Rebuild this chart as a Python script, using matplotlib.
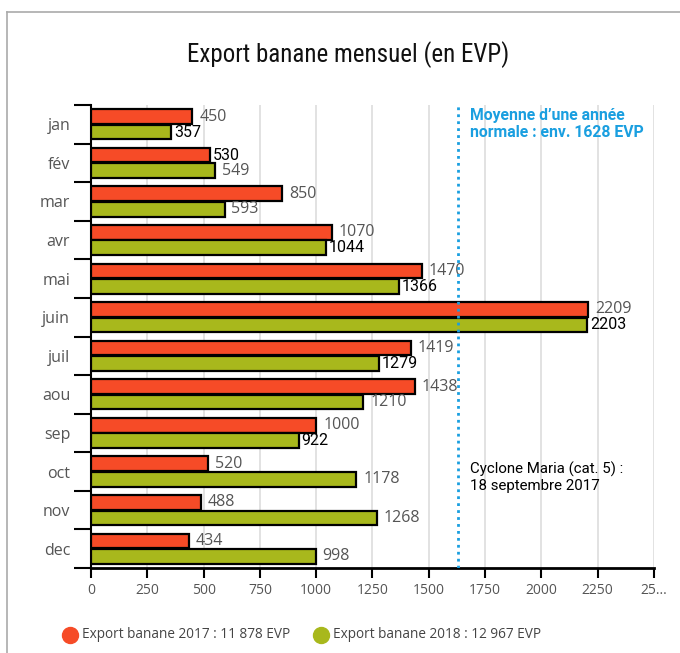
import matplotlib

matplotlib.use("Agg")
import matplotlib.pyplot as plt
from matplotlib.lines import Line2D
import numpy as np

months = ["jan", "fév", "mar", "avr", "mai", "juin", "juil", "aou", "sep", "oct", "nov", "dec"]
export_2017 = [450, 530, 850, 1070, 1470, 2209, 1419, 1438, 1000, 520, 488, 434]
export_2018 = [357, 549, 593, 1044, 1366, 2203, 1279, 1210, 922, 1178, 1268, 998]
x_ticks = [0, 250, 500, 750, 1000, 1250, 1500, 1750, 2000, 2250, 2500]
x_ticklabels = ["0", "250", "500", "750", "1000", "1250", "1500", "1750", "2000", "2250", "25..."]
average_normal = 1628
legend_labels = ["Export banane 2017 : 11 878 EVP", "Export banane 2018 : 12 967 EVP"]

# labels drawn in black in the original (the rest are grey)
dark_2017 = {"fév"}
dark_2018 = {"jan", "avr", "mai", "juin", "juil", "sep"}

RED = "#F64B27"
GREEN = "#A8B81C"
BLUE = "#1A9FE0"
GREY = "#555555"

fig = plt.figure(figsize=(6.8, 6.53), dpi=100)
ax = fig.add_axes([91 / 680, 1 - 568 / 653, (654 - 91) / 680, (568 - 105) / 653])

y = np.arange(len(months))
h = 0.38
ax.barh(y - 0.2, export_2017, height=h, color=RED, edgecolor="black", linewidth=1.6, zorder=3)
ax.barh(y + 0.2, export_2018, height=h, color=GREEN, edgecolor="black", linewidth=1.6, zorder=3)

for i, m in enumerate(months):
    for val, off, dark in ((export_2017[i], -0.2, m in dark_2017), (export_2018[i], 0.2, m in dark_2018)):
        ax.annotate(str(val), (val, y[i] + off), xytext=(2 if dark else 5, 0),
                    textcoords="offset points", va="center", ha="left", fontsize=11.5,
                    color="black" if dark else GREY,
                    family="Roboto" if dark else "Open Sans", zorder=4)

ax.set_xlim(0, 2500)
ax.set_ylim(len(months) - 0.5, -0.5)

ax.set_xticks(x_ticks)
ax.set_xticklabels(x_ticklabels, fontsize=10, color=GREY, family="Open Sans")
ax.tick_params(axis="x", length=7, width=1.5, color="black", pad=4)
ax.xaxis.grid(True, color="#DDDDDD", linewidth=1.2, zorder=0)

# category separators as major ticks, month names on minor ticks
ax.set_yticks(np.arange(len(months) + 1) - 0.5)
ax.set_yticklabels([])
ax.set_yticks(y, minor=True)
ax.set_yticklabels(months, minor=True, fontsize=11.5, color=GREY, family="Open Sans")
ax.tick_params(axis="y", which="major", length=12, width=1.5, color="black")
ax.tick_params(axis="y", which="minor", length=0, pad=15)

for side in ("top", "right"):
    ax.spines[side].set_visible(False)
ax.spines["left"].set_linewidth(1.5)
ax.spines["bottom"].set_linewidth(2)

ax.axvline(average_normal, color=BLUE, linestyle=(0, (1, 1.5)), linewidth=2, zorder=5)
ax.text(1683, -0.42, "Moyenne d\u2019une année\nnormale : env. 1628 EVP", color=BLUE,
        fontsize=11.3, fontweight="bold", family="Roboto", va="top", ha="left", linespacing=1.2)
ax.text(1683, 8.75, "Cyclone Maria (cat. 5) :\n18 septembre 2017", color="black",
        fontsize=10.8, family="Roboto", va="top", ha="left", linespacing=1.2)

fig.text(348 / 680, 1 - 55 / 653, "Export banane mensuel (en EVP)", ha="center", va="center",
         fontsize=18, family=["Roboto Condensed", "Liberation Sans Narrow", "Roboto"],
         fontstretch="condensed", color="#111111")

# legend
for cx, tx, col, lab in ((70, 82, RED, legend_labels[0]), (321, 333, GREEN, legend_labels[1])):
    fig.add_artist(Line2D([cx / 680], [1 - 635 / 653], marker="o", markersize=11.5,
                          color=col, linestyle="none", transform=fig.transFigure))
    fig.text(tx / 680, 1 - 635 / 653, lab, ha="left", va="center", fontsize=9.8,
             color="#444444", family="Open Sans")

# outer frame lines
fig.add_artist(Line2D([7 / 680, 1], [1 - 12 / 653, 1 - 12 / 653], color="#AAAAAA",
                      linewidth=1.2, transform=fig.transFigure))
fig.add_artist(Line2D([7 / 680, 7 / 680], [0, 1 - 12 / 653], color="#AAAAAA",
                      linewidth=1.2, transform=fig.transFigure))

fig.savefig("out.png", dpi=100)
